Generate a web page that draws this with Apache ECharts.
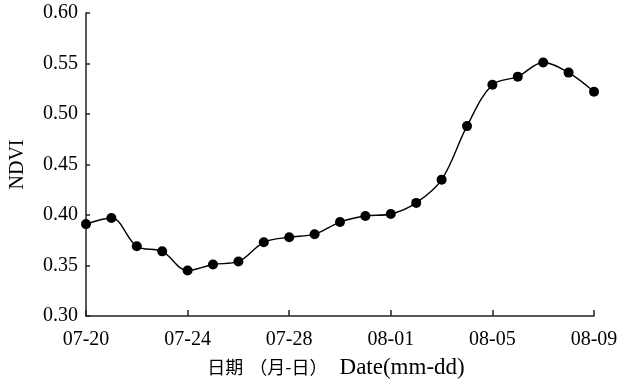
<!DOCTYPE html>
<html><head><meta charset="utf-8">
<script src="https://cdn.jsdelivr.net/npm/echarts@6/dist/echarts.min.js"></script>
<style>html,body{margin:0;padding:0;background:#fff}#c{width:624px;height:381px}</style>
</head><body><div id="c"></div>
<script>
const dates = ['07-20','07-21','07-22','07-23','07-24','07-25','07-26','07-27','07-28','07-29','07-30','07-31','08-01','08-02','08-03','08-04','08-05','08-06','08-07','08-08','08-09'];
const ndvi = [0.391,0.397,0.369,0.364,0.345,0.351,0.354,0.373,0.378,0.381,0.393,0.399,0.401,0.412,0.435,0.488,0.529,0.537,0.551,0.541,0.522];
const yTicks = [0.30,0.35,0.40,0.45,0.50,0.55,0.60];
const serif = 'Liberation Serif';
const chart = echarts.init(document.getElementById('c'), null, {renderer:'canvas'});
chart.setOption({
  animation:false,
  grid:{left:86,right:30,top:13,bottom:65,containLabel:false,outerBoundsMode:'none'},
  xAxis:{
    type:'category', data:dates, boundaryGap:false,
    name:'{a|日期}{b|（月-日）}{c|Date(mm-dd)}', nameLocation:'middle', nameGap:40,
    nameTextStyle:{color:'#000',padding:[0,8,0,0],rich:{
      a:{fontFamily:'Noto Sans CJK SC',fontSize:18,color:'#000'},
      b:{fontFamily:'Noto Sans CJK SC',fontSize:18,color:'#000',padding:[0,0,0,6]},
      c:{fontFamily:serif,fontSize:23,color:'#000',padding:[0,0,0,12]}
    }},
    axisLine:{lineStyle:{color:'#222',width:1.5}},
    axisTick:{inside:true,length:6,interval:3,lineStyle:{color:'#222',width:1.5}},
    axisLabel:{interval:3,fontFamily:serif,fontSize:20,color:'#000',margin:14},
    splitLine:{show:false}
  },
  yAxis:{
    type:'value', min:yTicks[0], max:yTicks[yTicks.length-1], interval:0.05,
    name:'NDVI', nameLocation:'middle', nameGap:58, nameRotate:90,
    nameTextStyle:{fontFamily:serif,fontSize:20,color:'#000'},
    axisLine:{show:true,lineStyle:{color:'#222',width:1.5}},
    axisTick:{show:true,inside:true,length:4,lineStyle:{color:'#222',width:1.5}},
    axisLabel:{fontFamily:serif,fontSize:20,color:'#000',margin:8,formatter:v=>v.toFixed(2)},
    splitLine:{show:false}
  },
  series:[{
    type:'line', data:ndvi, smooth:0.35,
    symbol:'circle', symbolSize:10,
    itemStyle:{color:'#000'},
    lineStyle:{color:'#000',width:1.4}
  }]
});
</script></body></html>
